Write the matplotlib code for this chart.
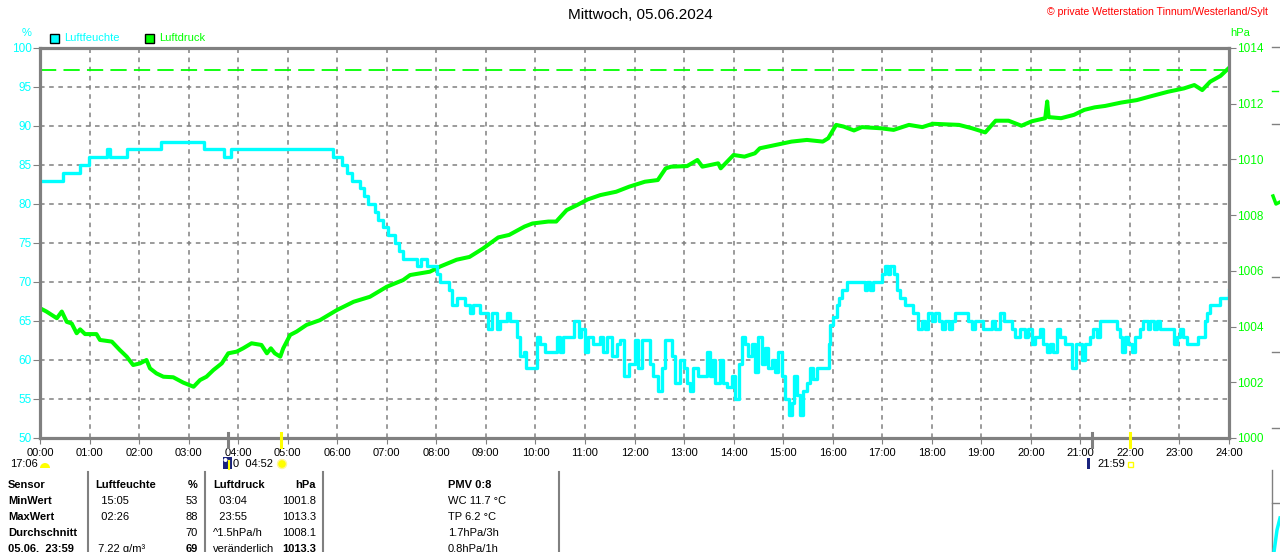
import numpy as np
import matplotlib
matplotlib.use("Agg")
import matplotlib.pyplot as plt
from matplotlib.patches import Rectangle, Wedge, Circle
from matplotlib.lines import Line2D
from matplotlib.transforms import IdentityTransform

plt.rcParams['font.family'] = ['Liberation Sans', 'DejaVu Sans']

# --- data ---
# Luftfeuchte (%), value from time (h) onwards
hum_t = [0.00, 0.47, 0.81, 0.98, 1.36, 1.41, 1.75, 2.44, 3.31, 3.72, 3.86, 5.92,
         6.09, 6.19, 6.29, 6.46, 6.53, 6.62, 6.76, 6.83, 6.92, 7.02, 7.17, 7.24,
         7.32, 7.60, 7.70, 7.81, 8.01, 8.07, 8.26, 8.32, 8.41, 8.58, 8.68, 8.75,
         8.88, 9.05, 9.12, 9.22, 9.29, 9.43, 9.49, 9.63, 9.69, 9.76, 9.82, 10.03,
         10.09, 10.19, 10.43, 10.50, 10.56, 10.77, 10.87, 10.93, 11.00, 11.07, 11.17, 11.30,
         11.37, 11.44, 11.54, 11.64, 11.71, 11.79, 11.88, 12.01, 12.08, 12.15, 12.31, 12.38,
         12.48, 12.55, 12.62, 12.75, 12.82, 12.92, 12.99, 13.05, 13.12, 13.19, 13.29, 13.46,
         13.52, 13.59, 13.63, 13.73, 13.79, 13.86, 13.96, 14.03, 14.10, 14.16, 14.23, 14.30,
         14.37, 14.43, 14.50, 14.57, 14.64, 14.70, 14.77, 14.84, 14.90, 14.97, 15.04, 15.11,
         15.17, 15.21, 15.27, 15.34, 15.41, 15.48, 15.54, 15.61, 15.68, 15.92, 15.95, 16.01,
         16.08, 16.13, 16.18, 16.28, 16.65, 16.70, 16.75, 16.82, 16.99, 17.06, 17.12, 17.16,
         17.23, 17.29, 17.36, 17.46, 17.63, 17.73, 17.80, 17.87, 17.93, 18.00, 18.07, 18.14,
         18.20, 18.27, 18.34, 18.40, 18.47, 18.74, 18.81, 18.88, 19.04, 19.21, 19.28, 19.38,
         19.45, 19.61, 19.68, 19.78, 19.88, 19.95, 20.02, 20.09, 20.19, 20.25, 20.32, 20.39,
         20.45, 20.52, 20.59, 20.69, 20.83, 20.92, 21.03, 21.09, 21.20, 21.26, 21.33, 21.40,
         21.73, 21.80, 21.84, 21.90, 21.97, 22.04, 22.10, 22.21, 22.27, 22.37, 22.41, 22.48,
         22.54, 22.61, 22.88, 22.95, 23.01, 23.08, 23.15, 23.38, 23.52, 23.55, 23.62, 23.82,
         23.99, 24.00]
hum_v = [83, 84, 85, 86, 87, 86, 87, 88, 87, 86, 87, 86,
         85, 84, 83, 82, 81, 80, 79, 78, 77, 76, 75, 74,
         73, 72, 73, 72, 71, 70, 69, 67, 68, 67, 66, 67,
         66, 64, 66, 64, 65, 66, 65, 63, 60.5, 61, 59, 63,
         62, 61, 63, 61, 63, 65, 63, 64, 61, 63, 62, 63,
         61, 63, 60.5, 62, 62.5, 58, 59.5, 62.5, 59, 62.5, 59.5, 58,
         56, 59, 62.5, 60.5, 57, 60, 59, 57, 56, 59, 58, 61,
         58, 60, 57, 60, 57, 56.5, 58, 55, 59.5, 63, 62, 60.5,
         62, 58.5, 63, 59.5, 61.5, 59, 60, 58.5, 61, 58, 55, 53,
         54.5, 58, 55.5, 53, 56, 57, 59, 57.5, 59, 62, 64.5, 65.5,
         67, 68, 69, 70, 69, 70, 69, 70, 71, 72, 71, 72,
         71, 69, 68, 67, 66, 64, 65, 64, 66, 65, 66, 65,
         64, 65, 64, 65, 66, 65, 64, 65, 64, 65, 64, 66,
         65, 64, 63, 64, 63, 64, 62, 63, 64, 62, 61, 62,
         61, 64, 63, 62, 59, 62, 60, 62, 63, 64, 63, 65,
         64, 63, 61, 63, 62, 61, 63, 64, 65, 64, 65, 64,
         65, 64, 62, 63, 64, 63, 62, 63, 65, 66, 67, 68,
         69, 69]

# Luftdruck (hPa)
pres_t = [0.00, 0.13, 0.34, 0.44, 0.54, 0.64, 0.74, 0.81, 0.91, 1.14, 1.21, 1.45,
          1.61, 1.75, 1.88, 2.02, 2.15, 2.22, 2.35, 2.49, 2.69, 2.89, 3.10, 3.23,
          3.36, 3.50, 3.67, 3.80, 3.97, 4.10, 4.27, 4.47, 4.58, 4.66, 4.74, 4.85,
          4.91, 5.05, 5.18, 5.38, 5.65, 5.99, 6.33, 6.66, 7.00, 7.33, 7.47, 7.87,
          8.07, 8.41, 8.67, 8.94, 9.25, 9.47, 9.78, 9.94, 10.26, 10.42, 10.63, 10.84,
          11.05, 11.31, 11.63, 11.89, 12.21, 12.47, 12.63, 12.74, 13.06, 13.27, 13.37, 13.69,
          13.74, 14.00, 14.22, 14.43, 14.53, 14.85, 15.17, 15.48, 15.80, 15.91, 16.07, 16.22,
          16.43, 16.59, 16.96, 17.23, 17.54, 17.81, 18.02, 18.55, 18.81, 19.08, 19.29, 19.55,
          19.81, 20.02, 20.29, 20.33, 20.36, 20.61, 20.87, 21.08, 21.29, 21.50, 21.82, 22.14,
          22.45, 22.77, 23.09, 23.30, 23.46, 23.62, 23.83, 23.99]
pres_v = [1004.66, 1004.54, 1004.30, 1004.54, 1004.17, 1004.11, 1003.76, 1003.90, 1003.73, 1003.73, 1003.52, 1003.46,
          1003.16, 1002.92, 1002.62, 1002.68, 1002.80, 1002.50, 1002.32, 1002.20, 1002.18, 1001.99, 1001.84, 1002.08,
          1002.20, 1002.44, 1002.68, 1003.04, 1003.10, 1003.22, 1003.40, 1003.34, 1003.04, 1003.22, 1003.04, 1002.92,
          1003.22, 1003.70, 1003.82, 1004.06, 1004.23, 1004.59, 1004.89, 1005.07, 1005.43, 1005.67, 1005.85, 1005.97,
          1006.15, 1006.40, 1006.50, 1006.80, 1007.20, 1007.29, 1007.59, 1007.70, 1007.77, 1007.77, 1008.18, 1008.36,
          1008.56, 1008.72, 1008.84, 1009.02, 1009.20, 1009.26, 1009.68, 1009.74, 1009.76, 1009.98, 1009.74, 1009.86,
          1009.68, 1010.16, 1010.10, 1010.22, 1010.40, 1010.52, 1010.64, 1010.70, 1010.64, 1010.76, 1011.24, 1011.18,
          1011.04, 1011.16, 1011.12, 1011.06, 1011.24, 1011.16, 1011.28, 1011.24, 1011.12, 1010.97, 1011.39, 1011.39,
          1011.21, 1011.37, 1011.48, 1012.08, 1011.52, 1011.48, 1011.60, 1011.78, 1011.87, 1011.92, 1012.04, 1012.13,
          1012.28, 1012.43, 1012.55, 1012.67, 1012.49, 1012.79, 1013.00, 1013.27]
pres_max_line = 1013.2

hour_labels = ["%02d:00" % h for h in range(25)]
hum_ticks = list(range(50, 101, 5))
pres_ticks = list(range(1000, 1015, 2))

table_rows = [
    ["Sensor", "Luftfeuchte", "%", "Luftdruck", "hPa", "PMV 0:8"],
    ["MinWert", "  15:05", "53", "  03:04", "1001.8", "WC 11.7 °C"],
    ["MaxWert", "  02:26", "88", "  23:55", "1013.3", "TP 6.2 °C"],
    ["Durchschnitt", "", "70", "^1.5hPa/h", "1008.1", "1.7hPa/3h"],
    ["05.06.  23:59", " 7.22 g/m³", "69", "veränderlich", "1013.3", "0.8hPa/1h"],
]

CYAN = "#00FFFF"
GREEN = "#00FF00"
GRAY = "#808080"
YELLOW = "#FFFF00"
NAVY = "#1a237e"
W, H = 1280, 552


def fx(x):
    return x / W


def fy(y):
    return 1 - y / H


fig = plt.figure(figsize=(12.8, 5.52), dpi=100)
FT = fig.transFigure
PX = IdentityTransform()  # pixel coords, origin bottom-left
rect = [fx(40), fy(438), 1189 / W, 390 / H]
ax = fig.add_axes(rect)
ax2 = ax.twinx()
ax3 = ax.twinx()

ax.set_xlim(0, 24)
ax.set_ylim(50, 100)
ax2.set_ylim(1000, 1014)
ax3.set_ylim(50, 100)

ax.set_xticks(range(25))
ax.set_xticklabels(hour_labels)
ax.set_yticks(hum_ticks)
ax.grid(True, color=GRAY, linestyle=(0, (3, 3)), linewidth=1.1)
ax.tick_params(axis='x', colors=GRAY, labelcolor='black', labelsize=8, length=4, pad=3)
ax.tick_params(axis='y', colors=GRAY, labelcolor=CYAN, labelsize=8.5, length=5, pad=1)
ax2.set_yticks(pres_ticks)
ax2.tick_params(axis='y', colors=GRAY, labelcolor=GREEN, labelsize=8.5, length=5, pad=1)
for a in (ax, ax2, ax3):
    for s in a.spines.values():
        s.set_color(GRAY)
        s.set_linewidth(2.2)
ax3.set_yticks([])
ax3.patch.set_visible(False)
ax2.patch.set_visible(False)

# pressure below, humidity on top
ax2.plot(pres_t, pres_v, color=GREEN, linewidth=2.9)
ax2.axhline(pres_max_line, color=GREEN, linewidth=1.3, linestyle=(0, (9, 4)))
ax3.plot(hum_t, hum_v, color=CYAN, linewidth=2.4, drawstyle='steps-post')

# titles and axis units
fig.text(0.5, fy(15), "Mittwoch, 05.06.2024", ha='center', va='center', fontsize=11)
fig.text(fx(1268), fy(12), "© private Wetterstation Tinnum/Westerland/Sylt",
         ha='right', va='center', fontsize=7.6, color='red')
fig.text(fx(27), fy(33), "%", ha='center', va='center', fontsize=8, color=CYAN)
fig.text(fx(1240), fy(33), "hPa", ha='center', va='center', fontsize=8, color=GREEN)

# legend
for x0, col, lab in [(50, CYAN, "Luftfeuchte"), (145, GREEN, "Luftdruck")]:
    fig.add_artist(Rectangle((x0, H - 43), 9, 9, facecolor=col,
                             edgecolor='black', linewidth=1, transform=PX))
    fig.text(fx(x0 + 14), fy(38), lab, ha='left', va='center', fontsize=8, color=col)

# sun / moon markers below the axis
for xm, col in [(228, GRAY), (1092, GRAY), (281, YELLOW), (1130, YELLOW)]:
    fig.add_artist(Line2D([fx(xm), fx(xm)], [fy(433), fy(447)], color=col,
                          linewidth=2.2, transform=FT))
fig.text(fx(10), fy(464), "17:06", ha='left', va='center', fontsize=8)
fig.add_artist(Wedge((45, H - 468), 5, 0, 180, facecolor=YELLOW,
                     edgecolor='none', transform=PX))
fig.add_artist(Rectangle((223, H - 469), 9, 12, facecolor=NAVY,
                         edgecolor='none', transform=PX))
fig.add_artist(Circle((225.5, H - 460), 2, facecolor='white',
                      edgecolor='none', transform=PX))
fig.add_artist(Line2D([229, 229], [H - 469, H - 461], color=YELLOW,
                      linewidth=1.5, transform=PX))
fig.text(fx(233), fy(464), "0  04:52", ha='left', va='center', fontsize=8)
fig.add_artist(Circle((282, H - 464), 4.5, facecolor=YELLOW,
                      edgecolor="#FFF59D", linewidth=1, transform=PX))
fig.add_artist(Rectangle((1087, H - 469), 3, 11, facecolor=NAVY,
                         edgecolor='none', transform=PX))
fig.text(fx(1097), fy(464), "21:59", ha='left', va='center', fontsize=8)
fig.add_artist(Rectangle((1128, H - 467), 5, 5, facecolor='none',
                         edgecolor=YELLOW, linewidth=1, transform=PX))

# table
row_y = [485, 501, 517, 533, 549]
for i, row in enumerate(table_rows):
    y = fy(row_y[i])
    head = i == 0
    fig.text(fx(8), y, row[0], ha='left', va='center', fontsize=8, fontweight='bold')
    fig.text(fx(95), y, row[1], ha='left', va='center', fontsize=8,
             fontweight='bold' if head else 'normal')
    fig.text(fx(198), y, row[2], ha='right', va='center', fontsize=8,
             fontweight='bold' if head or i == 4 else 'normal')
    fig.text(fx(213), y, row[3], ha='left', va='center', fontsize=8,
             fontweight='bold' if head else 'normal')
    fig.text(fx(316), y, row[4], ha='right', va='center', fontsize=8,
             fontweight='bold' if head or i == 4 else 'normal')
    fig.text(fx(448), y, row[5], ha='left', va='center', fontsize=8,
             fontweight='bold' if head else 'normal')
for xs in [88, 205, 323, 559]:
    fig.add_artist(Line2D([fx(xs), fx(xs)], [fy(472), 0], color=GRAY,
                          linewidth=1.5, transform=FT))

# edge of the next panel on the right
for yy in [47, 124, 277, 352, 428, 503]:
    fig.add_artist(Line2D([fx(1272), fx(1280)], [fy(yy), fy(yy)], color=GRAY,
                          linewidth=1, transform=FT))
fig.add_artist(Line2D([fx(1272), fx(1278)], [fy(91), fy(91)], color=GREEN,
                      linewidth=1, transform=FT))
fig.add_artist(Line2D([fx(1273), fx(1276), fx(1280)], [fy(196), fy(204), fy(202)],
                      color=GREEN, linewidth=2.5, transform=FT))
fig.add_artist(Line2D([fx(1272), fx(1272)], [fy(470), 0], color=GRAY,
                      linewidth=1, transform=FT))
fig.add_artist(Line2D([fx(1274), fx(1277), fx(1280)], [0, fy(530), fy(518)],
                      color=CYAN, linewidth=2.5, transform=FT))

fig.savefig("out.png", dpi=100)
